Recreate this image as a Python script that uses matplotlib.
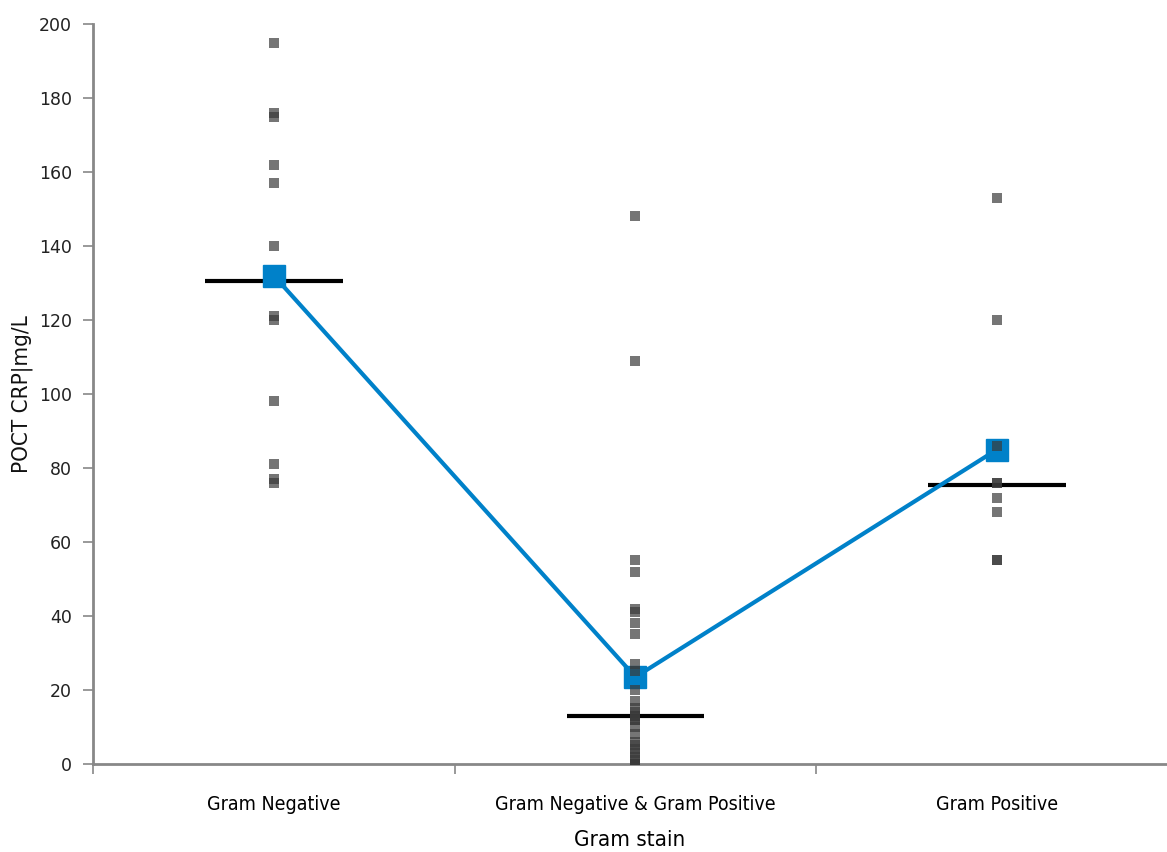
import matplotlib.pyplot as plt

# === DADOS ===
categorias = ['Gram Negative', 'Gram Negative & Gram Positive', 'Gram Positive']

gram_neg = [195, 176, 175, 162, 157, 140, 121, 120, 98, 81, 77, 76]
gram_mix = [148, 109, 55, 52, 42, 41, 38, 35, 27, 25, 20, 17, 15, 14, 13,
            13, 12, 12, 10, 8, 6, 5, 4, 3, 2, 1, 0, 0, 0, 0]
gram_pos = [153, 120, 86, 76, 76, 72, 68, 55, 55]

medias = [132, 23.5, 85]
medianas = [130.5, 13, 75.5]

grupos = [gram_neg, gram_mix, gram_pos]

# === FIGURA ===
fig = plt.figure(figsize=(11.67, 8.52), dpi=100)
ax = fig.add_axes([0.0797, 0.1033, 0.9203, 0.8685])

cinza = '#888888'
azul = '#0081C9'

# medianas (atrás de tudo)
for i, med in enumerate(medianas):
    ax.plot([i - 0.19, i + 0.19], [med, med], color='black', lw=3,
            solid_capstyle='butt', zorder=2)

# médias
ax.plot(range(len(medias)), medias, color=azul, lw=3, marker='s',
        markersize=16.5, markerfacecolor=azul, markeredgecolor=azul, zorder=3)

# pontos individuais (por cima)
for i, vals in enumerate(grupos):
    ax.plot([i] * len(vals), vals, linestyle='none', marker='s', markersize=6.8,
            color='#3a3a3a', alpha=0.7, markeredgewidth=0, zorder=4)

# === EIXOS ===
fonte_x = dict(family='DejaVu Sans', stretch='condensed')
ax.set_xlim(-0.5, 2.47)
ax.set_ylim(0, 200)
ax.set_yticks(range(0, 201, 20))
ax.set_xticks(range(3))
ax.set_xticklabels(categorias, fontsize=14, **fonte_x)
ax.set_xticks([-0.5, 0.5, 1.5], minor=True)
ax.tick_params(axis='x', which='major', length=0, pad=22)
ax.tick_params(axis='x', which='minor', length=7, color=cinza, width=1.2)
ax.tick_params(axis='y', length=7, color=cinza, width=1.2, labelsize=12.5,
               pad=8, labelcolor='#222222')

for s in ['top', 'right']:
    ax.spines[s].set_visible(False)
for s in ['left', 'bottom']:
    ax.spines[s].set_color(cinza)
    ax.spines[s].set_linewidth(2)

ax.set_xlabel('Gram stain', fontsize=16, labelpad=12, **fonte_x)
ax.set_ylabel('POCT CRP|mg/L', fontsize=16, labelpad=4, color='#111111',
              **fonte_x)

plt.savefig('out.png', dpi=100)
